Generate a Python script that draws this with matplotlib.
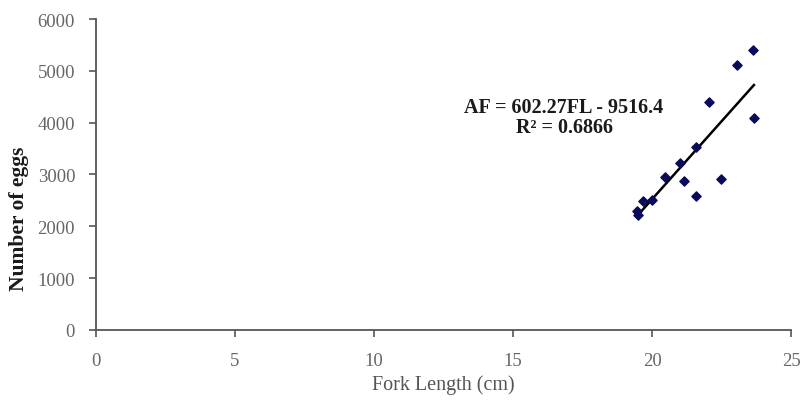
import numpy as np
import matplotlib.pyplot as plt

# Datos
fork_length = [23.6, 23.05, 22.05, 23.65, 21.55, 21.0, 20.45, 21.15,
               22.45, 21.55, 20.0, 19.65, 19.45, 19.5]
num_eggs = [5410, 5120, 4400, 4090, 3540, 3215, 2960, 2870,
            2910, 2590, 2510, 2490, 2300, 2220]

# Recta de ajuste (del texto de la ecuacion)
pendiente = 602.27
intercepto = -9516.4
r2 = 0.6866

x_ticks = [0, 5, 10, 15, 20, 25]
y_ticks = [0, 1000, 2000, 3000, 4000, 5000, 6000]

plt.rcParams['font.family'] = ['Liberation Serif', 'DejaVu Serif']

fig = plt.figure(figsize=(8.06, 4.02), dpi=100)
ax = fig.add_axes([0.119, 0.177, 0.863, 0.773])

ax.scatter(fork_length, num_eggs, marker='D', s=22, color='#0a0a5a', zorder=3)

x_fit = np.array([min(fork_length), max(fork_length)])
ax.plot(x_fit, pendiente * x_fit + intercepto, color='black', linewidth=1.8, zorder=2)

ax.text(0.673, 0.685, f'AF = {pendiente}FL - {abs(intercepto)}\nR² = {r2}',
        transform=ax.transAxes, ha='center', va='center', fontsize=14.5,
        fontweight='bold', linespacing=1.05, color='#1a1a1a')

ax.set_xlim(0, 25)
ax.set_ylim(0, 6000)
ax.set_xticks(x_ticks)
ax.set_yticks(y_ticks)
ax.spines['top'].set_visible(False)
ax.spines['right'].set_visible(False)
for s in ['left', 'bottom']:
    ax.spines[s].set_color('#555555')
    ax.spines[s].set_linewidth(1.3)
ax.tick_params(axis='both', colors='#555555', labelcolor='#666666',
               labelsize=13.5, length=5, width=1.2, direction='out')
ax.tick_params(axis='x', pad=11)
ax.tick_params(axis='y', pad=10)

ax.set_xlabel('Fork Length (cm)', fontsize=14.5, color='#555555', va='center')
ax.xaxis.set_label_coords(0.5, -0.174)
ax.set_ylabel('Number of eggs', fontsize=15.5, fontweight='bold', va='center',
              color='#1a1a1a')
ax.yaxis.set_label_coords(-0.111, 0.36)

fig.savefig('out.png', dpi=100)
